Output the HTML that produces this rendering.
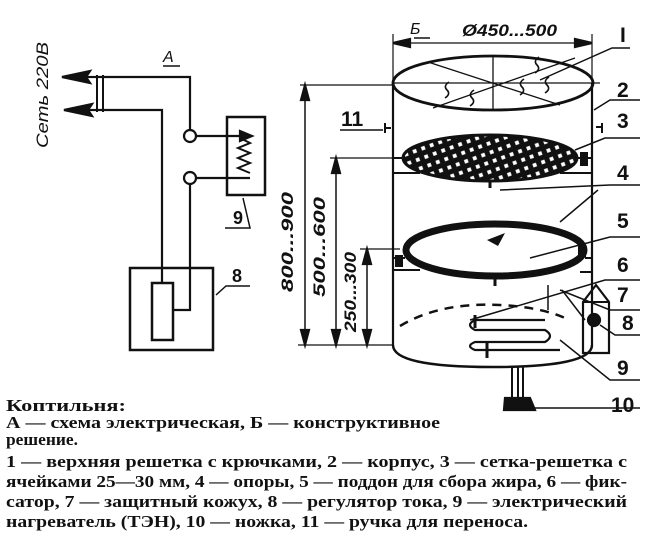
<!DOCTYPE html>
<html><head><meta charset="utf-8"><style>html,body{margin:0;padding:0;background:#fff}svg{display:block}</style></head>
<body>
<svg width="647" height="541" viewBox="0 0 647 541" xmlns="http://www.w3.org/2000/svg">
<rect width="647" height="541" fill="#fff"/>
<g stroke="#111" fill="none" stroke-width="2.2">
<path d="M100 77 H190 V130"/>
<path d="M100 110 H162 V283"/>
<path d="M190 184 V310 H173"/>
<path d="M97 75 V112 M103 75 V112" stroke-width="2"/>
<polygon points="62,77 90,71 86,77 90,83" fill="#111"/>
<polygon points="64,110 92,104 88,110 92,116" fill="#111"/>
<line x1="86" y1="77" x2="100" y2="77"/><line x1="88" y1="110" x2="100" y2="110"/>
<circle cx="190" cy="136" r="6" fill="#fff"/>
<circle cx="190" cy="178" r="6" fill="#fff"/>
<rect x="130" y="268" width="83" height="82" stroke-width="2.5"/>
<rect x="152" y="283" width="21" height="57" stroke-width="2.5"/>
<rect x="227" y="117" width="38" height="78" stroke-width="2.5"/>
<path d="M196 136 H248 M196 178 H250"/>
<polygon points="252,136 240,131 240,141" fill="#111"/>
<path d="M240 138 L250 143 L238 148 L250 153 L238 158 L250 163 L238 168 L250 173" stroke-width="2"/>
<path d="M216 295 L226 286 H250" stroke-width="1.5"/>
<path d="M243 198 L250 228 H225" stroke-width="1.5"/>
<path d="M163 66 H180" stroke-width="1.5"/>
</g>
<g font-family="Liberation Sans, DejaVu Sans, sans-serif" fill="#111">
<text x="163" y="62" font-size="16" font-style="italic">А</text>
<text x="233" y="224" font-size="18" font-weight="bold">9</text>
<text x="232" y="282" font-size="18" font-weight="bold">8</text>
<text transform="translate(48,148) rotate(-90)" font-size="17" font-style="italic" textLength="106" lengthAdjust="spacingAndGlyphs">Сеть 220В</text>
</g>
<g stroke="#111" fill="none" stroke-width="2.2">
<line x1="393" y1="83" x2="393" y2="345"/>
<line x1="592" y1="83" x2="592" y2="345"/>
<path d="M393 345 Q393 367 492 367 Q592 367 592 345" stroke-width="2.5"/>
<ellipse cx="493" cy="83" rx="100" ry="27" stroke-width="2.8"/>
<path d="M393 83 H600 M493 56 V110 M428 62 L560 105 M433 108 L575 58" stroke-width="1.3"/>
<line x1="393" y1="34" x2="393" y2="83" stroke-width="1.2"/>
<line x1="592" y1="34" x2="592" y2="83" stroke-width="1.2"/>
<line x1="393" y1="43" x2="592" y2="43" stroke-width="1.3"/>
<polygon points="393,43 410,39 410,47" fill="#111"/>
<polygon points="592,43 575,39 575,47" fill="#111"/>
<path d="M414 38 H430" stroke-width="1.5"/>
<path d="M445 98 q6 -4 2 -8 q-4 -4 2 -8 M470 106 q6 -4 2 -8 q-4 -4 2 -8 M520 95 q6 -4 2 -8 q-4 -4 2 -8 M545 93 q6 -4 2 -8 q-4 -4 2 -8 M535 73 q6 -4 2 -8 q-4 -4 2 -8" stroke-width="1.6"/>
<defs><pattern id="g" width="9" height="9" patternUnits="userSpaceOnUse" patternTransform="rotate(-20)"><rect width="9" height="9" fill="#111"/><rect x="2" y="2" width="6" height="6" fill="#fff"/></pattern></defs>
<ellipse cx="490" cy="158" rx="87" ry="23" fill="url(#g)" stroke-width="3"/>
<path d="M393 158 H403 M578 158 H592 M393 173 H420 M560 173 H592" stroke-width="2"/>
<rect x="580" y="152" width="8" height="14" fill="#111" stroke="none"/>
<line x1="490" y1="181" x2="490" y2="188" stroke-width="3"/>
<ellipse cx="495" cy="250" rx="89" ry="26" stroke-width="7"/>
<path d="M393 258 H405 M393 270 H420 M585 258 H592 M580 272 H592" stroke-width="2"/>
<rect x="395" y="255" width="8" height="12" fill="#111" stroke="none"/>
<rect x="578" y="245" width="8" height="12" fill="#111" stroke="none"/>
<polygon points="487,240 505,233 498,246" fill="#111" stroke="none"/>
<line x1="495" y1="276" x2="495" y2="286" stroke-width="3"/>
<path d="M385 128 H391 M385 123 V133 M596 127 H602 M602 123 V133" stroke-width="2"/>
<path d="M400 326 Q440 302 500 305 Q540 307 565 318" stroke-dasharray="9 7" stroke-width="2.5"/>
<path d="M545 320 H475 Q465 325 475 330 H545 Q555 336 545 342 H475 Q465 346 475 350 H560" stroke-width="2.2"/>
<path d="M475 315 V328 M487 343 V358" stroke-width="3"/>
<path d="M583 353 V302 L596 285 L609 302 V353 Z" stroke-width="2.2"/>
<path d="M583 302 H609" stroke-width="2"/>
<circle cx="594" cy="320" r="6" fill="#111"/>
<path d="M548 285 V310 M562 290 L585 320" stroke-width="1.5"/>
<path d="M512 367 V400 M518 367 V400 M523 367 V400" stroke-width="2"/>
<polygon points="505,398 530,398 535,410 504,410" fill="#111"/>
<path d="M300 85 H393 M330 158 H400 M360 249 H400 M298 345 H393" stroke-width="1.3"/>
<line x1="305" y1="85" x2="305" y2="345" stroke-width="1.5"/>
<line x1="336" y1="158" x2="336" y2="345" stroke-width="1.5"/>
<line x1="367" y1="249" x2="367" y2="345" stroke-width="1.5"/>
<polygon points="305,85 301,100 309,100" fill="#111"/><polygon points="305,345 301,330 309,330" fill="#111"/>
<polygon points="336,158 332,173 340,173" fill="#111"/><polygon points="336,345 332,330 340,330" fill="#111"/>
<polygon points="367,249 363,264 371,264" fill="#111"/><polygon points="367,345 363,330 371,330" fill="#111"/>
<g stroke-width="1.5">
<path d="M540 80 L612 48 H630"/>
<path d="M594 110 L610 100 H640"/>
<path d="M575 150 L605 138 H640"/>
<path d="M500 190 L610 185 H640"/>
<path d="M560 222 L598 190"/>
<path d="M530 258 L610 237 H640"/>
<path d="M470 320 L605 280 H640"/>
<path d="M560 290 L610 310 H640"/>
<path d="M600 325 L615 335 H640"/>
<path d="M560 340 L610 380 H640"/>
<path d="M528 408 H640"/>
<path d="M340 130 H383"/>
</g>
</g>
<g font-family="Liberation Sans, DejaVu Sans, sans-serif" fill="#111">
<text x="410" y="34" font-size="16" font-style="italic">Б</text>
<text x="462" y="36" font-size="17" font-style="italic" font-weight="bold" textLength="95" lengthAdjust="spacingAndGlyphs">Ø450...500</text>
<g font-size="21" font-weight="bold">
<text x="620" y="42">I</text><text x="617" y="97">2</text><text x="617" y="128">3</text>
<text x="617" y="180">4</text><text x="617" y="228">5</text><text x="617" y="272">6</text>
<text x="617" y="302">7</text><text x="622" y="330">8</text><text x="617" y="375">9</text>
<text x="611" y="412">10</text><text x="341" y="126">11</text>
</g>
<g font-size="17" font-style="italic" font-weight="bold">
<text transform="translate(293,292) rotate(-90)" textLength="100" lengthAdjust="spacingAndGlyphs">800...900</text>
<text transform="translate(325,297) rotate(-90)" textLength="100" lengthAdjust="spacingAndGlyphs">500...600</text>
<text transform="translate(356,332) rotate(-90)" textLength="80" lengthAdjust="spacingAndGlyphs">250...300</text>
</g>
</g>
<g font-family="Liberation Serif, DejaVu Serif, serif" font-weight="bold" font-size="17" fill="#111">
<text x="6" y="411" textLength="120" lengthAdjust="spacingAndGlyphs">Коптильня:</text>
<text x="6" y="428" textLength="434" lengthAdjust="spacingAndGlyphs">А — схема электрическая, Б — конструктивное</text>
<text x="6" y="445" textLength="72" lengthAdjust="spacingAndGlyphs">решение.</text>
<text x="6" y="467" textLength="621" lengthAdjust="spacingAndGlyphs">1 — верхняя решетка с крючками, 2 — корпус, 3 — сетка-решетка с</text>
<text x="6" y="487" textLength="621" lengthAdjust="spacingAndGlyphs">ячейками 25—30 мм, 4 — опоры, 5 — поддон для сбора жира, 6 — фик-</text>
<text x="6" y="507" textLength="621" lengthAdjust="spacingAndGlyphs">сатор, 7 — защитный кожух, 8 — регулятор тока, 9 — электрический</text>
<text x="6" y="527" textLength="522" lengthAdjust="spacingAndGlyphs">нагреватель (ТЭН), 10 — ножка, 11 — ручка для переноса.</text>
</g>
</svg>
</body></html>
